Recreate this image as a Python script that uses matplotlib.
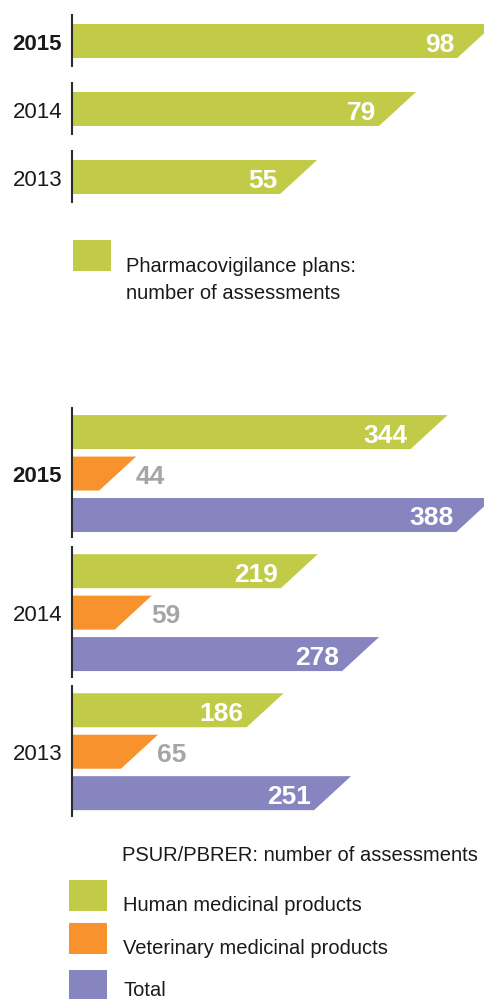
import matplotlib
matplotlib.use('Agg')
import matplotlib.pyplot as plt
from matplotlib.patches import Rectangle

# ---- data ----
years = ['2015', '2014', '2013']
pv_plans = [98, 79, 55]
psur_human = [344, 219, 186]
psur_vet = [44, 59, 65]
psur_total = [388, 278, 251]

top_legend = ['Pharmacovigilance plans:', 'number of assessments']
bottom_title = 'PSUR/PBRER: number of assessments'
bottom_legend = ['Human medicinal products', 'Veterinary medicinal products', 'Total']

# ---- style ----
GREEN = '#C1CB48'
ORANGE = '#F7922D'
PURPLE = '#8785C0'
GRAY = '#A5A5A5'
DARK = '#1A1A1A'
AXC = '#2B2B2B'
SANS = ['Liberation Sans', 'DejaVu Sans']

W, H = 484, 999
fig = plt.figure(figsize=(W / 100, H / 100), dpi=100)


def fx(x):
    return x / W


def fy(y):
    return 1 - y / H


def slanted(ax, y, v, h, slant, color):
    xs = [0, v + slant / 2, v - slant / 2, 0]
    ys = [y - h / 2, y - h / 2, y + h / 2, y + h / 2]
    ax.fill(xs, ys, color=color, lw=0)


def year_label(ax, i, year):
    ax.annotate(year, xy=(0, i), xytext=(-10, -8.5), textcoords='offset pixels',
                ha='right', va='baseline', fontsize=16, family=SANS,
                color=DARK, fontweight='bold' if year == '2015' else 'normal',
                annotation_clip=False)


def inside_label(ax, y, v, slant):
    ax.annotate(str(v), xy=(v - slant / 2, y), xytext=(-3, -10.5),
                textcoords='offset pixels', ha='right', va='baseline',
                color='white', fontsize=19, fontweight='bold', family=SANS)


def outside_label(ax, y, v, slant):
    ax.annotate(str(v), xy=(v + slant / 2, y), xytext=(-1, -10.5),
                textcoords='offset pixels', ha='left', va='baseline',
                color=GRAY, fontsize=19, fontweight='bold', family=SANS)


# ---- top panel ----
ax1 = fig.add_axes([fx(72), fy(211), fx(484) - fx(72), 204 / H])
ax1.set_xlim(0, 100)
ax1.set_ylim(2.5, -0.5)
ax1.axis('off')
slant1 = 9.0
h1 = 0.5
for i, (yr, v) in enumerate(zip(years, pv_plans)):
    slanted(ax1, i, v, h1, slant1, GREEN)
    inside_label(ax1, i, v, slant1)
    ax1.plot([0, 0], [i - 0.397, i + 0.382], color=AXC, lw=1.5,
             solid_capstyle='butt', clip_on=False)
    year_label(ax1, i, yr)

# ---- bottom panel ----
ax2 = fig.add_axes([fx(72), fy(821.25), fx(484) - fx(72), 417.25 / H])
ax2.set_xlim(0, 396.9)
ax2.set_ylim(2.5, -0.5)
ax2.axis('off')
slant2 = 35.6
h2 = 0.2444
off = 0.298
for i, yr in enumerate(years):
    yh, yv, yt = i - off, i, i + off
    slanted(ax2, yh, psur_human[i], h2, slant2, GREEN)
    inside_label(ax2, yh, psur_human[i], slant2)
    slanted(ax2, yv, psur_vet[i], h2, slant2, ORANGE)
    outside_label(ax2, yv, psur_vet[i], slant2)
    slanted(ax2, yt, psur_total[i], h2, slant2, PURPLE)
    inside_label(ax2, yt, psur_total[i], slant2)
    ax2.plot([0, 0], [i - 0.482, i + 0.467], color=AXC, lw=1.5,
             solid_capstyle='butt', clip_on=False)
    year_label(ax2, i, yr)

# ---- legends ----
def square(x0, y0, x1, y1, color):
    fig.add_artist(Rectangle((fx(x0), fy(y1)), fx(x1) - fx(x0), (y1 - y0) / H,
                             transform=fig.transFigure, color=color, lw=0))


LFS = 14.5
square(73, 240, 111, 271, GREEN)
fig.text(fx(126), fy(272), top_legend[0], ha='left', va='baseline',
         fontsize=LFS, family=SANS, color=DARK)
fig.text(fx(126), fy(299), top_legend[1], ha='left', va='baseline',
         fontsize=LFS, family=SANS, color=DARK)

fig.text(fx(122), fy(861), bottom_title, ha='left', va='baseline',
         fontsize=LFS, family=SANS, color=DARK)
sq_y = [(880, 911), (923, 954), (970, 1001)]
for (y0, y1), col, lab, base in zip(sq_y, [GREEN, ORANGE, PURPLE], bottom_legend,
                                    [911, 954, 996]):
    square(69, y0, 107, y1, col)
    fig.text(fx(123), fy(base), lab, ha='left', va='baseline',
             fontsize=LFS, family=SANS, color=DARK)

fig.savefig('out.png', dpi=100)
